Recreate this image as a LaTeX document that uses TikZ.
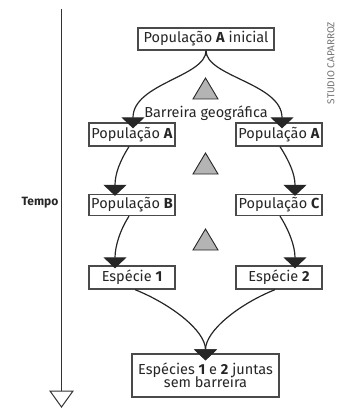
\documentclass[tikz,border=0pt]{standalone}
\usepackage{fontspec}
\setmainfont{Fira Sans}
\usetikzlibrary{arrows.meta}
\definecolor{boxline}{HTML}{4A4A4A}
\definecolor{trigray}{HTML}{B4B4B4}
\tikzset{
  txt/.style={font=\fontsize{14.5}{15}\selectfont, text=black!85},
  box/.style={txt, draw=boxline, line width=1.3pt, fill=white, inner sep=0pt},
  conn/.style={line width=1.2pt, draw=black!85,
    -{Triangle[width=23pt,length=11pt]}},
  bartri/.style={draw=black!85, line width=0.9pt, fill=trigray},
}
\begin{document}
\begin{tikzpicture}[x=1pt,y=-1pt]
\useasboundingbox (0,0) rectangle (337,409);
% timeline
\coordinate (t0) at (61.5,9);
\coordinate (t1) at (61.5,391);
\draw[line width=1.2pt, black!80] (t0) -- (t1);
\draw[line width=1pt, black!80, fill=white] (50,391) -- (73,391) -- (61.5,407) -- cycle;
\node[font=\fontsize{12}{13}\selectfont\bfseries, text=black!85] (tempo) at (40,203) {Tempo};
% watermark
\node[rotate=90, font=\fontsize{10}{11}\selectfont, text=black!55] (wm) at (331,63) {STUDIO CAPARROZ};
% boxes
\node[box, minimum width=136pt, minimum height=22pt] (top) at (206,39) {População \textbf{A} inicial};
\node[box, minimum width=86pt, minimum height=23pt] (l2) at (132,134.5) {População \textbf{A}};
\node[box, minimum width=86pt, minimum height=23pt] (r2) at (279,134.5) {População \textbf{A}};
\node[box, minimum width=86pt, minimum height=21pt] (l3) at (132,205) {População \textbf{B}};
\node[box, minimum width=86pt, minimum height=21pt] (r3) at (279,205) {População \textbf{C}};
\node[box, minimum width=86pt, minimum height=23pt] (l4) at (132,277.5) {Espécie \textbf{1}};
\node[box, minimum width=86pt, minimum height=23pt] (r4) at (279,277.5) {Espécie \textbf{2}};
\node[box, minimum width=147pt, minimum height=43pt, align=center] (fin) at (205.5,375.5)
  {Espécies \textbf{1} e \textbf{2} juntas\\[-2pt]sem barreira};
% label
\node[txt, inner sep=0pt] (bar) at (206,113) {Barreira geográfica};
% barrier triangles
\foreach \y in {99,174,250}{
  \draw[bartri] (193,\y) -- (218,\y) -- (205.5,\y-21) -- cycle;
}
% connectors
\draw[conn] (top.south) .. controls +(0,26) and +(0,-45) .. ([xshift=1pt,yshift=-6pt]l2.north);
\draw[conn] (top.south) .. controls +(0,26) and +(0,-45) .. ([xshift=3pt,yshift=-6pt]r2.north);
\draw[conn] ([xshift=-3pt]l2.south) .. controls +(-9,14) and +(0,-22) .. ([xshift=-17pt,yshift=-2pt]l3.north);
\draw[conn] ([xshift=1pt]r2.south) .. controls +(9,14) and +(0,-22) .. ([xshift=16pt,yshift=-2pt]r3.north);
\draw[conn] ([xshift=-3pt]l3.south) .. controls +(-9,14) and +(0,-22) .. ([xshift=-17pt,yshift=-3pt]l4.north);
\draw[conn] ([xshift=1pt]r3.south) .. controls +(9,14) and +(0,-22) .. ([xshift=16pt,yshift=-3pt]r4.north);
\draw[conn] ([xshift=3pt]l4.south) .. controls +(35,14) and +(0,-30) .. ([yshift=-7pt]fin.north);
\draw[conn] ([xshift=-4pt]r4.south) .. controls +(-35,14) and +(0,-30) .. ([yshift=-7pt]fin.north);
\end{tikzpicture}
\end{document}
